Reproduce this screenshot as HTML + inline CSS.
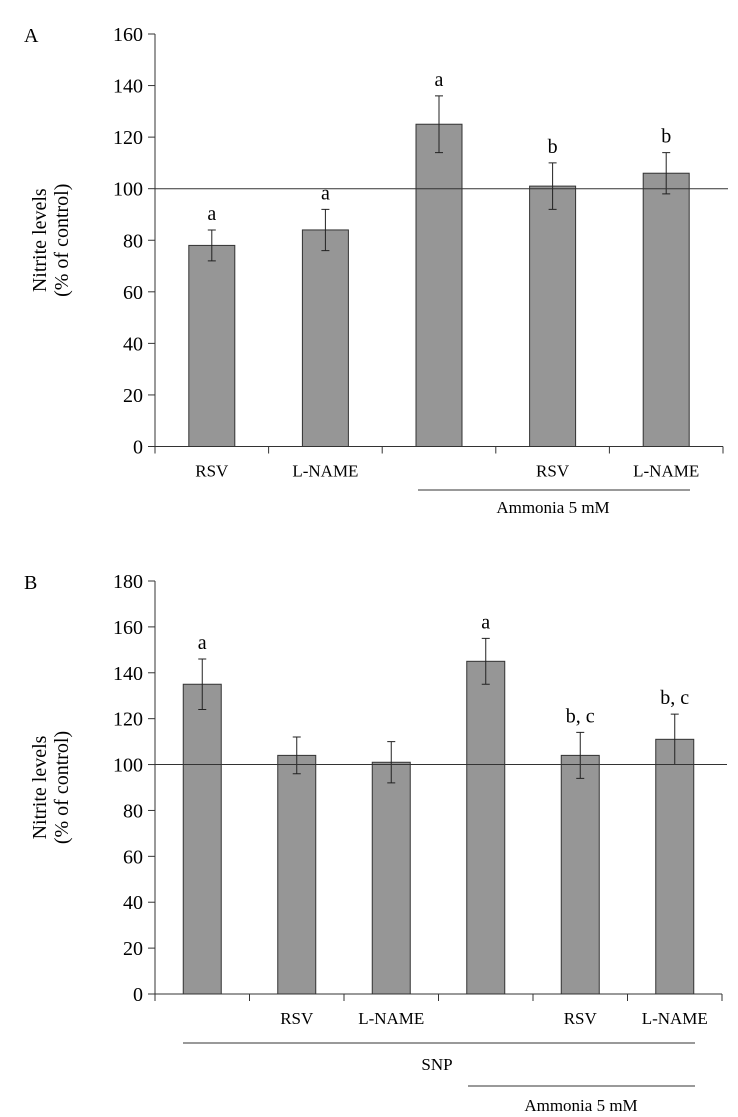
<!DOCTYPE html>
<html><head><meta charset="utf-8"><style>
body{margin:0;background:#fff}
svg{display:block;font-family:"Liberation Serif",serif}
</style></head><body>
<svg id="c" width="738" height="1117" viewBox="0 0 738 1117"></svg>
<script>
const aValues=[78,84,125,101,106];
const aErrors=[6,8,11,9,8];
const aLetters=["a","a","a","b","b"];
const aCategories=["RSV","L-NAME","","RSV","L-NAME"];
const aTicks=[0,20,40,60,80,100,120,140,160];
const bValues=[135,104,101,145,104,111];
const bErrors=[11,8,9,10,10,11];
const bLetters=["a","","","a","b, c","b, c"];
const bCategories=["","RSV","L-NAME","","RSV","L-NAME"];
const bTicks=[0,20,40,60,80,100,120,140,160,180];
const NS="http://www.w3.org/2000/svg";
const svg=document.getElementById('c');
function mk(tag,at,parent,txt){const e=document.createElementNS(NS,tag);for(const k in at)e.setAttribute(k,at[k]);if(txt!==undefined)e.textContent=txt;(parent||svg).appendChild(e);return e;}
function panel(p){
  const g=mk('g',{});
  
  
  const y=v=>p.y0-(v/p.max)*(p.y0-p.yTop);
  const cw=(p.xEnd-p.x0)/p.values.length;
  const cx=i=>p.x0+cw*(i+0.5);
  let t=mk('text',{x:24,y:p.yTop+8,'font-size':20},g,p.id);
  
  let ax=mk('line',{x1:p.x0,y1:p.yTop,x2:p.x0,y2:p.y0,stroke:'#333','stroke-width':1},g);
  
  p.ticks.forEach(v=>{
    mk('line',{x1:p.x0-7,x2:p.x0,y1:y(v),y2:y(v),stroke:'#333'},g);
    const tl=mk('text',{x:p.x0-12,y:y(v)+7,'font-size':20,'text-anchor':'end'},g,v);
    
  });
  const yt=mk('text',{transform:`translate(50,${(p.yTop+p.y0)/2}) rotate(-90)`,'font-size':20,'text-anchor':'middle'},g);
  
  mk('tspan',{x:0,dy:-4},yt,'Nitrite levels');
  mk('tspan',{x:0,dy:22},yt,'(% of control)');
  p.values.forEach((v,i)=>{
    const r=mk('rect',{x:cx(i)-p.bw/2,y:y(v),width:p.bw,height:p.y0-y(v),fill:'#969696',stroke:'#333','stroke-width':1},g);
    
    const e=p.errors[i];
    const eb=mk('path',{d:`M${cx(i)},${y(v+e)}V${y(v-e)}M${cx(i)-4},${y(v+e)}H${cx(i)+4}M${cx(i)-4},${y(v-e)}H${cx(i)+4}`,stroke:'#222',fill:'none'},g);
    
    if(p.letters[i]){const l=mk('text',{x:cx(i),y:y(v+e)-10,'font-size':20,'text-anchor':'middle'},g,p.letters[i]);
      }
    if(p.cats[i]){const c=mk('text',{x:cx(i),y:p.y0+30,'font-size':17,'text-anchor':'middle'},g,p.cats[i]);
      }
  });
  const rl=mk('line',{x1:p.x0,x2:p.xEnd+5,y1:y(100),y2:y(100),stroke:'#333'},g);
  
  const xa=mk('line',{x1:p.x0,x2:p.xEnd,y1:p.y0,y2:p.y0,stroke:'#333'},g);
  
  for(let i=0;i<=p.values.length;i++)mk('line',{x1:p.x0+cw*i,x2:p.x0+cw*i,y1:p.y0,y2:p.y0+7,stroke:'#333'},g);
  p.groups.forEach(gr=>{
    mk('line',{x1:gr.x1,x2:gr.x2,y1:gr.ly,y2:gr.ly,stroke:'#333'},g);
    const gt=mk('text',{x:gr.tx,y:gr.ty,'font-size':17,'text-anchor':'middle'},g,gr.label);
    
  });
}
panel({id:'A',values:aValues,errors:aErrors,letters:aLetters,cats:aCategories,ticks:aTicks,max:160,
  x0:155,xEnd:723,y0:446.5,yTop:34,bw:46,
  groups:[{x1:418,x2:690,ly:490,label:'Ammonia 5 mM',tx:553,ty:513}]});
panel({id:'B',values:bValues,errors:bErrors,letters:bLetters,cats:bCategories,ticks:bTicks,max:180,
  x0:155,xEnd:722,y0:994,yTop:581,bw:38,
  groups:[{x1:183,x2:695,ly:1043,label:'SNP',tx:437,ty:1070},{x1:468,x2:695,ly:1086,label:'Ammonia 5 mM',tx:581,ty:1111}]});
</script>
</body></html>
